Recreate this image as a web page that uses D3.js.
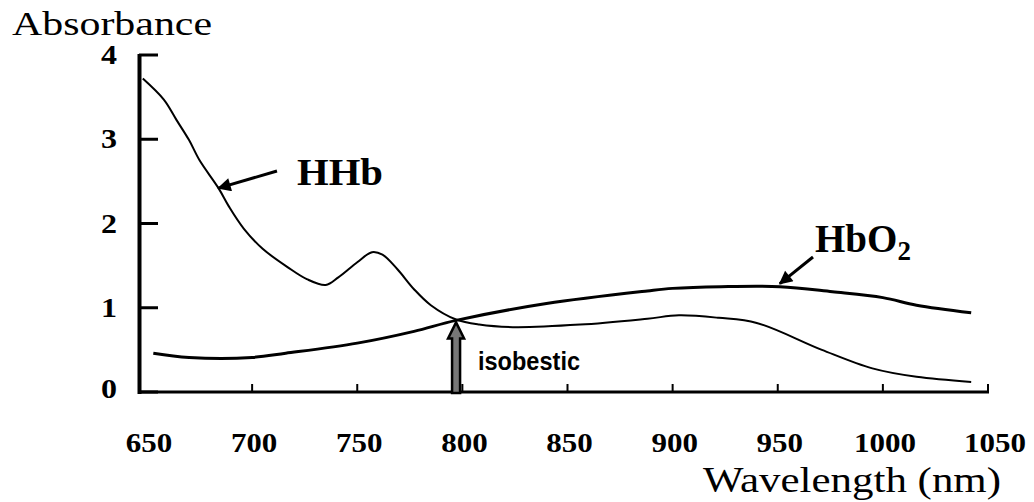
<!DOCTYPE html>
<html>
<head>
<meta charset="utf-8">
<script src="https://cdn.jsdelivr.net/npm/d3@7"></script>
<style>
  body { margin: 0; background: #fff; }
  svg { display: block; }
</style>
</head>
<body>
<script>
// wavelength (nm) and absorbance
const hhbWave = [648, 658, 664, 670, 675, 684, 689, 696, 705, 717, 726, 735, 741, 750, 757, 762, 769, 777, 785, 797, 808, 824, 856, 888, 903, 922, 940, 971, 995, 1016, 1042];
const hhbAbs  = [3.72, 3.47, 3.23, 2.99, 2.75, 2.42, 2.20, 1.94, 1.70, 1.48, 1.34, 1.27, 1.36, 1.54, 1.66, 1.63, 1.46, 1.22, 1.03, 0.86, 0.80, 0.77, 0.80, 0.87, 0.91, 0.88, 0.82, 0.50, 0.28, 0.18, 0.12];

const hbo2Wave = [653, 670, 700, 716, 750, 777, 797, 840, 888, 900, 923, 951, 976, 1000, 1016, 1042];
const hbo2Abs  = [0.46, 0.41, 0.41, 0.46, 0.58, 0.72, 0.85, 1.05, 1.20, 1.23, 1.25, 1.25, 1.19, 1.12, 1.03, 0.94];

const xTicks = [650, 700, 750, 800, 850, 900, 950, 1000, 1050];
const yTicks = [0, 1, 2, 3, 4];

const W = 1034, H = 502;
const serif = '"Liberation Serif", "Times New Roman", serif';
const sans = '"Liberation Sans", Arial, sans-serif';

const svg = d3.select('body').append('svg').attr('width', W).attr('height', H)
    .style('font-family', serif);

const x = d3.scaleLinear().domain([650, 1050]).range([147, 988]);
const y = d3.scaleLinear().domain([0, 4]).range([392, 55]);

// arrowhead
svg.append('defs').append('marker')
    .attr('id', 'head')
    .attr('viewBox', '0 0 10 10')
    .attr('refX', 9).attr('refY', 5)
    .attr('markerWidth', 5).attr('markerHeight', 4.5)
    .attr('markerUnits', 'strokeWidth')
    .attr('orient', 'auto')
  .append('path')
    .attr('d', 'M0,0 L10,5 L0,10 Z')
    .attr('fill', '#000');

// axes lines
svg.append('line').attr('x1', 139.5).attr('x2', 139.5).attr('y1', y(4) - 1).attr('y2', y(0) + 2)
    .attr('stroke', '#000').attr('stroke-width', 4);
svg.append('line').attr('x1', 138).attr('x2', x(1050) + 1).attr('y1', y(0)).attr('y2', y(0))
    .attr('stroke', '#000').attr('stroke-width', 3);

// y ticks (inward)
svg.selectAll('.ytick').data(yTicks).join('line')
    .attr('x1', 139).attr('x2', 158)
    .attr('y1', d => y(d)).attr('y2', d => y(d))
    .attr('stroke', '#000').attr('stroke-width', 3);

svg.selectAll('.ylab').data(yTicks).join('text')
    .attr('x', 117).attr('y', d => y(d) + 9 - (d === 0 ? 3 : 0))
    .attr('text-anchor', 'end')
    .attr('font-size', 27).attr('font-weight', 'bold')
    .attr('textLength', 16).attr('lengthAdjust', 'spacingAndGlyphs')
    .text(d => d);

// x ticks (inward)
svg.selectAll('.xtick').data(xTicks.slice(1)).join('line')
    .attr('x1', d => x(d)).attr('x2', d => x(d))
    .attr('y1', y(0)).attr('y2', y(0) - 8)
    .attr('stroke', '#000').attr('stroke-width', 2);

svg.selectAll('.xlab').data(xTicks).join('text')
    .attr('x', d => x(d) + (d === 1050 ? 7 : 2))
    .attr('y', 452)
    .attr('text-anchor', 'middle')
    .attr('font-size', 28).attr('font-weight', 'bold')
    .attr('textLength', d => String(d).length * 15.5)
    .attr('lengthAdjust', 'spacingAndGlyphs')
    .text(d => d);

// axis titles
svg.append('text').attr('x', 12).attr('y', 35)
    .attr('font-size', 34)
    .attr('textLength', 200).attr('lengthAdjust', 'spacingAndGlyphs')
    .text('Absorbance');

svg.append('text').attr('x', 703).attr('y', 492)
    .attr('font-size', 36)
    .attr('textLength', 298).attr('lengthAdjust', 'spacingAndGlyphs')
    .text('Wavelength (nm)');

// curves
const line = d3.line().x(d => x(d[0])).y(d => y(d[1])).curve(d3.curveCatmullRom);

svg.append('path')
    .datum(hhbWave.map((w, i) => [w, hhbAbs[i]]))
    .attr('d', line)
    .attr('fill', 'none').attr('stroke', '#000').attr('stroke-width', 2);

svg.append('path')
    .datum(hbo2Wave.map((w, i) => [w, hbo2Abs[i]]))
    .attr('d', line)
    .attr('fill', 'none').attr('stroke', '#000').attr('stroke-width', 3);

// HHb label + arrow
svg.append('line')
    .attr('x1', 277).attr('y1', 171)
    .attr('x2', x(684)).attr('y2', y(2.42))
    .attr('stroke', '#000').attr('stroke-width', 3)
    .attr('marker-end', 'url(#head)');
svg.append('text').attr('x', 297).attr('y', 185)
    .attr('font-size', 38).attr('font-weight', 'bold')
    .attr('textLength', 86).attr('lengthAdjust', 'spacingAndGlyphs')
    .text('HHb');

// HbO2 label + arrow
svg.append('line')
    .attr('x1', 813).attr('y1', 257)
    .attr('x2', x(951)).attr('y2', y(1.25) - 3)
    .attr('stroke', '#000').attr('stroke-width', 3)
    .attr('marker-end', 'url(#head)');
const hbo = svg.append('text').attr('x', 815).attr('y', 252)
    .attr('font-size', 39).attr('font-weight', 'bold');
hbo.append('tspan').text('HbO');
hbo.append('tspan').attr('font-size', 27).attr('dy', 8).text('2');

// isobestic arrow (outlined)
const ix = x(797), iy = y(0.85) + 2, base = y(0) + 1;
svg.append('path')
    .attr('d', `M${ix - 4},${base} L${ix - 4},${iy + 16} L${ix - 8},${iy + 16} L${ix},${iy} L${ix + 8},${iy + 16} L${ix + 4},${iy + 16} L${ix + 4},${base} Z`)
    .attr('fill', '#777').attr('stroke', '#000').attr('stroke-width', 2.5);

svg.append('text').attr('x', 478).attr('y', 370)
    .style('font-family', sans)
    .attr('font-size', 25).attr('font-weight', 'bold')
    .attr('textLength', 102).attr('lengthAdjust', 'spacingAndGlyphs')
    .text('isobestic');
</script>
</body>
</html>
